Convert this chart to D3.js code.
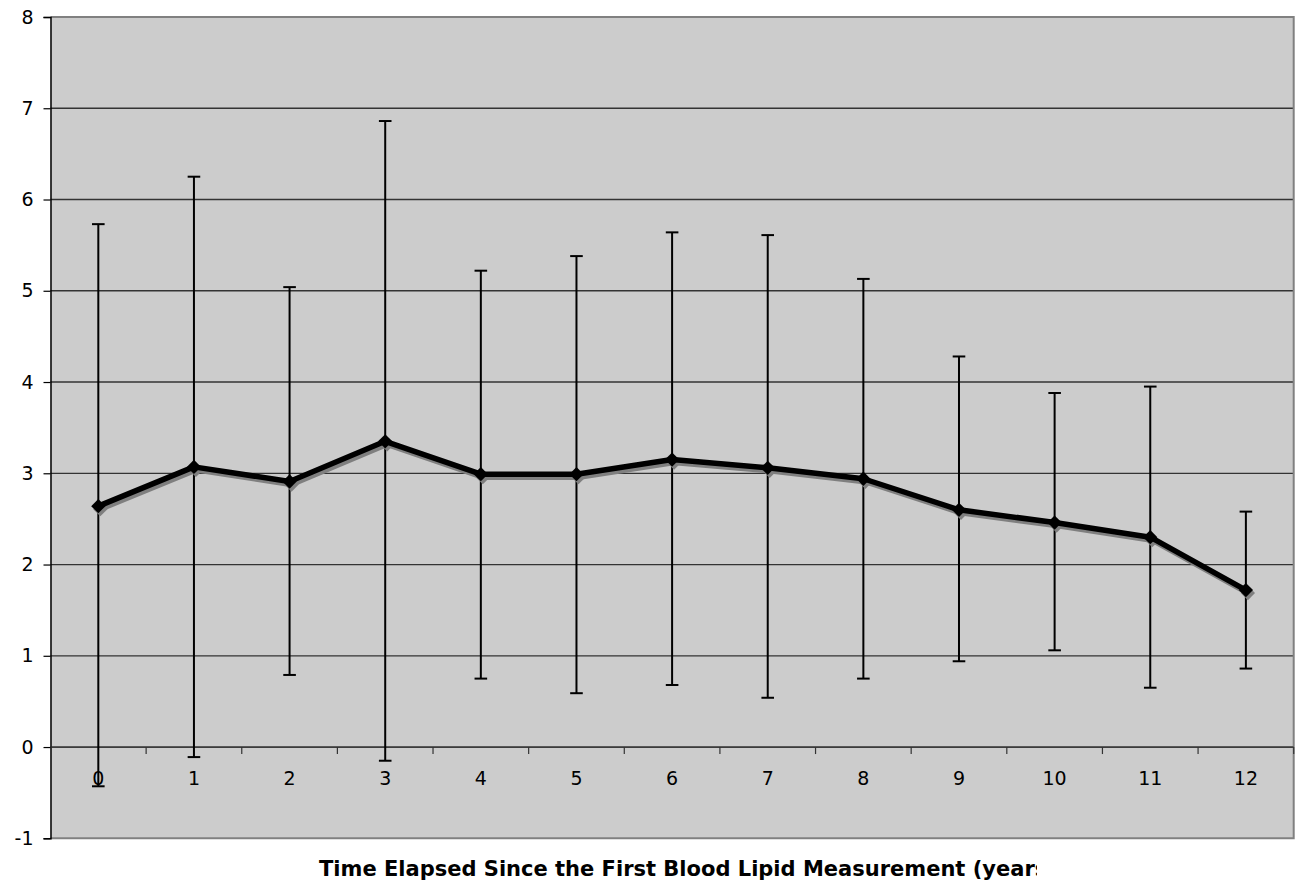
<!DOCTYPE html>
<html>
<head>
<meta charset="utf-8">
<script src="https://cdn.jsdelivr.net/npm/d3@7"></script>
<style>
  html, body { margin: 0; padding: 0; background: #ffffff; }
  svg { display: block; }
</style>
</head>
<body>
<div id="chart"></div>
<script>
// ---- data ----
const categories = ["0","1","2","3","4","5","6","7","8","9","10","11","12"];
const means = [2.64, 3.07, 2.91, 3.35, 2.99, 2.99, 3.15, 3.06, 2.94, 2.60, 2.46, 2.30, 1.72];
const upper = [5.73, 6.25, 5.04, 6.86, 5.22, 5.38, 5.64, 5.61, 5.13, 4.28, 3.88, 3.95, 2.58];
const lower = [-0.43, -0.11, 0.79, -0.15, 0.75, 0.59, 0.68, 0.54, 0.75, 0.94, 1.06, 0.65, 0.86];
const yTicks = [-1, 0, 1, 2, 3, 4, 5, 6, 7, 8];
const xTitle = "Time Elapsed Since the First Blood Lipid Measurement (years)";

const W = 1299, H = 887;
const plot = { left: 50.5, top: 17, right: 1293.7, bottom: 838.3 };

const svg = d3.select("#chart").append("svg")
  .attr("width", W).attr("height", H);

const x = d3.scaleBand().domain(categories).range([plot.left, plot.right]).padding(0);
const y = d3.scaleLinear().domain([-1, 8]).range([plot.bottom, plot.top]);

const font = "'DejaVu Sans', Verdana, sans-serif";

// plot background
svg.append("rect")
  .attr("x", plot.left).attr("y", plot.top)
  .attr("width", plot.right - plot.left).attr("height", plot.bottom - plot.top)
  .attr("fill", "#cccccc");

// gridlines
svg.append("g").selectAll("line")
  .data(yTicks.filter(d => d > -1 && d < 8))
  .join("line")
  .attr("x1", plot.left).attr("x2", plot.right)
  .attr("y1", d => y(d)).attr("y2", d => y(d))
  .attr("stroke", "#333333").attr("stroke-width", 1.3);

// plot border (top, right, bottom) in gray
svg.append("path")
  .attr("d", `M${plot.left},${y(8)}H${plot.right}V${y(-1)}H${plot.left}`)
  .attr("fill", "none").attr("stroke", "#808080").attr("stroke-width", 2);

// y axis
const yAxis = d3.axisLeft(y).tickValues(yTicks).tickSize(7).tickPadding(10)
  .tickFormat(d => String(d));
const gy = svg.append("g").attr("transform", `translate(${plot.left},0)`).call(yAxis);
gy.select(".domain").attr("stroke", "#000").attr("stroke-width", 1.5);
gy.selectAll(".tick line").attr("stroke", "#000").attr("stroke-width", 1.2);
gy.selectAll("text").attr("font-family", font).attr("font-size", 19).attr("fill", "#000");

// x axis at y = 0 : line, boundary ticks, labels
const gx = svg.append("g").attr("transform", `translate(0,${y(0)})`);
gx.append("line").attr("x1", plot.left).attr("x2", plot.right)
  .attr("y1", 0).attr("y2", 0).attr("stroke", "#333333").attr("stroke-width", 1.3);
gx.selectAll("line.tk")
  .data(categories)
  .join("line").attr("class", "tk")
  .attr("x1", d => x(d) + x.bandwidth()).attr("x2", d => x(d) + x.bandwidth())
  .attr("y1", 0).attr("y2", 7)
  .attr("stroke", "#333333").attr("stroke-width", 1.2);
const xAxis = d3.axisBottom(x).tickSize(0).tickPadding(24);
const gxl = gx.append("g").call(xAxis);
gxl.select(".domain").remove();
gxl.selectAll("text").attr("font-family", font).attr("font-size", 19).attr("fill", "#000");

// error bars
const cap = 6.3;
const eb = svg.append("g").attr("stroke", "#000").attr("stroke-width", 2);
categories.forEach((c, i) => {
  const cx = x(c) + x.bandwidth() / 2;
  eb.append("line").attr("x1", cx).attr("x2", cx).attr("y1", y(upper[i])).attr("y2", y(lower[i]));
  eb.append("line").attr("x1", cx - cap).attr("x2", cx + cap).attr("y1", y(upper[i])).attr("y2", y(upper[i]));
  eb.append("line").attr("x1", cx - cap).attr("x2", cx + cap).attr("y1", y(lower[i])).attr("y2", y(lower[i]));
});

// series line with shadow
const pts = categories.map((c, i) => [x(c) + x.bandwidth() / 2, y(means[i])]);
const lineGen = d3.line();
const diamond = d3.symbol().type(d3.symbolDiamond2).size(130);

const shadow = svg.append("g").attr("transform", "translate(2,3)");
shadow.append("path").attr("d", lineGen(pts)).attr("fill", "none")
  .attr("stroke", "#7f7f7f").attr("stroke-width", 5.5).attr("stroke-linejoin", "round");
shadow.selectAll("path.m").data(pts).join("path").attr("class", "m")
  .attr("d", diamond).attr("transform", d => `translate(${d[0]},${d[1]})`).attr("fill", "#7f7f7f");

svg.append("path").attr("d", lineGen(pts)).attr("fill", "none")
  .attr("stroke", "#000").attr("stroke-width", 5.5).attr("stroke-linejoin", "round");
svg.selectAll("path.mk").data(pts).join("path").attr("class", "mk")
  .attr("d", diamond).attr("transform", d => `translate(${d[0]},${d[1]})`).attr("fill", "#000");

// x title (clipped on the right as in the reference)
svg.append("clipPath").attr("id", "tclip").append("rect")
  .attr("x", 0).attr("y", 845).attr("width", 1037).attr("height", 40);
svg.append("text")
  .attr("clip-path", "url(#tclip)")
  .attr("x", 319).attr("y", 876)
  .attr("font-family", font).attr("font-weight", "bold").attr("font-size", 21)
  .attr("fill", "#000")
  .text(xTitle);
</script>
</body>
</html>
